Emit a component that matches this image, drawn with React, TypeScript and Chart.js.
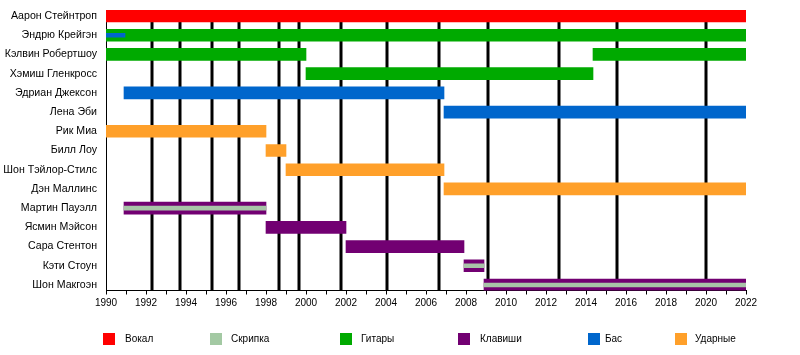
import React, { useEffect, useRef } from "react";
import { Chart, registerables } from "chart.js";

Chart.register(...registerables);

const members = [
  "Аарон Стейнтроп",
  "Эндрю Крейгэн",
  "Кэлвин Робертшоу",
  "Хэмиш Гленкросс",
  "Эдриан Джексон",
  "Лена Эби",
  "Рик Миа",
  "Билл Лоу",
  "Шон Тэйлор-Стилс",
  "Дэн Маллинс",
  "Мартин Пауэлл",
  "Ясмин Мэйсон",
  "Сара Стентон",
  "Кэти Стоун",
  "Шон Макгоэн",
];

// [row, start, end]
const vocalSpans = [[0, 1990, 2022]];
const guitarSpans = [
  [1, 1990, 2022],
  [2, 1990, 2000],
  [2, 2014.35, 2022],
  [3, 2000, 2014.35],
];
const bassSpans = [
  [4, 1990.9, 2006.9],
  [5, 2006.9, 2022],
];
const bassMinorSpans = [[1, 1990, 1990.95]];
const drumSpans = [
  [6, 1990, 1998],
  [7, 1998, 1999],
  [8, 1999, 2006.9],
  [9, 2006.9, 2022],
];
const keyboardSpans = [
  [10, 1990.9, 1998],
  [11, 1998, 2002],
  [12, 2002, 2007.9],
  [13, 2007.9, 2008.9],
  [14, 2008.9, 2022],
];
const violinSpans = [
  [10, 1990.9, 1998],
  [13, 2007.9, 2008.9],
  [14, 2008.9, 2022],
];

const albumYears = [
  1992.3, 1993.7, 1995.3, 1996.67, 1998.67, 1999.67, 2001.75, 2004.07,
  2006.67, 2009.12, 2012.67, 2015.57, 2020.0,
];

const startYear = 1990;
const endYear = 2022;

const legendLabels = ["Вокал", "Скрипка", "Гитары", "Клавиши", "Бас", "Ударные"];
const legendColors = ["#ff0000", "#a3c9a3", "#00aa00", "#720072", "#0066cc", "#ffa02a"];
const legendSquareX = [103, 210, 340, 458, 588, 675];
const legendTextX = [125, 231, 361, 480, 605, 695];

const COLORS = {
  vocal: "#ff0000",
  violin: "#a8c4a8",
  guitar: "#00aa00",
  keys: "#720072",
  bass: "#0066cc",
  drums: "#ffa02a",
};

const FONT = "'Liberation Sans', Arial, sans-serif";

function toData(spans: number[][]) {
  return spans.map(([row, s, e]) => ({ x: [s, e], y: row }));
}

const albumLinesPlugin = {
  id: "albumLines",
  beforeDatasetsDraw(chart: any) {
    const { ctx, chartArea, scales } = chart;
    ctx.save();
    ctx.strokeStyle = "#000";
    ctx.lineWidth = 3;
    for (const yr of albumYears) {
      const x = Math.round(scales.x.getPixelForValue(yr));
      ctx.beginPath();
      ctx.moveTo(x, chartArea.top);
      ctx.lineTo(x, chartArea.bottom);
      ctx.stroke();
    }
    ctx.restore();
  },
};

const legendPlugin = {
  id: "customLegend",
  afterDraw(chart: any) {
    const { ctx } = chart;
    ctx.save();
    ctx.font = `10px ${FONT}`;
    ctx.textBaseline = "middle";
    ctx.textAlign = "left";
    legendLabels.forEach((label, i) => {
      ctx.fillStyle = legendColors[i];
      ctx.fillRect(legendSquareX[i], 333, 12, 12);
      ctx.fillStyle = "#000";
      ctx.fillText(label, legendTextX[i], 339.5);
    });
    ctx.restore();
  },
};

export default function App() {
  const ref = useRef<HTMLCanvasElement | null>(null);

  useEffect(() => {
    if (!ref.current) return;
    const mk = (label: string, spans: number[][], color: string, thick: number, order: number) => ({
      label,
      data: toData(spans),
      backgroundColor: color,
      borderWidth: 0,
      barThickness: thick,
      grouped: false,
      order,
    });
    const chart = new Chart(ref.current, {
      type: "bar",
      data: {
        datasets: [
          mk("Вокал", vocalSpans, COLORS.vocal, 12, 1),
          mk("Гитары", guitarSpans, COLORS.guitar, 12, 1),
          mk("Бас", bassSpans, COLORS.bass, 12, 1),
          mk("Ударные", drumSpans, COLORS.drums, 12, 1),
          mk("Клавиши", keyboardSpans, COLORS.keys, 12, 1),
          mk("Скрипка", violinSpans, COLORS.violin, 4, 0),
          mk("Бас", bassMinorSpans, COLORS.bass, 4, 0),
        ] as any,
      },
      options: {
        indexAxis: "y",
        responsive: false,
        animation: false,
        layout: { padding: { top: 10, right: 54, bottom: 0, left: 0 } },
        plugins: {
          legend: { display: false },
          tooltip: { enabled: false },
        },
        scales: {
          x: {
            type: "linear",
            min: startYear,
            max: endYear,
            afterFit(scale: any) {
              scale.height = 64.5;
              scale.paddingLeft = 0;
              scale.paddingRight = 0;
            },
            border: { display: true, color: "#000", width: 1 },
            grid: {
              drawOnChartArea: false,
              drawTicks: true,
              tickLength: 4,
              color: "#000",
            },
            ticks: {
              stepSize: 1,
              autoSkip: false,
              maxRotation: 0,
              padding: 3,
              color: "#000",
              font: { family: FONT, size: 10 },
              callback: (v: any) => (Number(v) % 2 === 0 ? String(v) : ""),
            },
          },
          y: {
            type: "linear",
            reverse: true,
            offset: false,
            min: -0.312,
            max: 14.286,
            afterFit(scale: any) {
              scale.width = 106;
              scale.paddingTop = 0;
              scale.paddingBottom = 0;
            },
            border: { display: true, color: "#000", width: 1 },
            grid: { display: false, drawTicks: false, offset: false },
            ticks: {
              stepSize: 1,
              includeBounds: false,
              autoSkip: false,
              padding: 9,
              color: "#000",
              font: { family: FONT, size: 10.6 },
              callback: (v: any) =>
                Number.isInteger(Number(v)) && members[Number(v)] ? members[Number(v)] : "",
            },
          },
        },
      } as any,
      plugins: [albumLinesPlugin, legendPlugin],
    });
    return () => chart.destroy();
  }, []);

  return (
    <div style={{ position: "absolute", left: 0, top: 0, width: 800, height: 355, background: "#fff" }}>
      <canvas ref={ref} width={800} height={355} style={{ display: "block" }} />
    </div>
  );
}
